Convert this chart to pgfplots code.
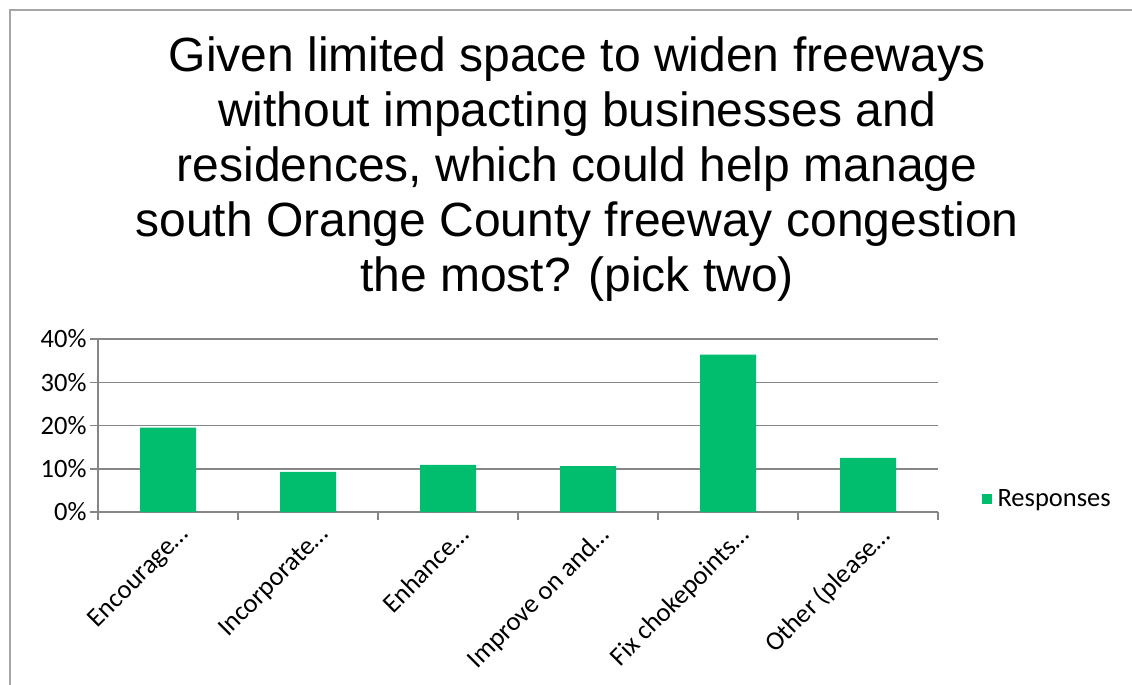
\documentclass[border=0pt]{standalone}
\usepackage{fontspec}
\setmainfont{Carlito}
\newfontfamily\arialfont{Liberation Sans}
\usepackage{pgfplots}
\pgfplotsset{compat=1.18}
\definecolor{barg}{RGB}{0,190,110}
\definecolor{gridg}{RGB}{134,134,134}
\definecolor{frameg}{RGB}{165,165,165}
\begin{document}
\begin{tikzpicture}[x=1pt,y=1pt]
\useasboundingbox (0,0) rectangle (1132,-685);
\draw[frameg, line width=2pt] (10,-686) -- (10,-10) -- (1133,-10);
\node[anchor=north, align=center, font=\arialfont\fontsize{48}{55}\selectfont] at (577,-33) {Given limited space to widen freeways\\without impacting businesses and\\residences, which could help manage\\south Orange County freeway congestion\\the most? (pick two)};
\begin{axis}[
 at={(98pt,-512pt)}, anchor=south west, scale only axis,
 width=840pt, height=173pt,
 ybar, bar width=56pt,
 ymin=0, ymax=40, xmin=-0.5, xmax=5.5,
 ytick={0,10,20,30,40},
 yticklabel={\pgfmathprintnumber{\tick}\%},
 xtick={-0.5,0.5,1.5,2.5,3.5,4.5,5.5},
 xticklabels={,,,,,,},
 extra x ticks={0,1,2,3,4,5},
 extra x tick labels={Encourage…,Incorporate…,Enhance…,Improve on and…,Fix chokepoints…,Other (please…},
 extra x tick style={major tick length=0pt, tick style={draw=none}},
 xticklabel style={rotate=45, anchor=north east, inner sep=2pt, xshift=1pt, yshift=-13pt},
 tick label style={font=\fontsize{26.5}{31}\selectfont},
 /pgf/number format/assume math mode=true,
 axis x line*=bottom, axis y line*=left,
 axis line style={gridg, line width=1.5pt},
 tick style={gridg, line width=1.5pt},
 tick align=outside, major tick length=8pt,
 ymajorgrids, major grid style={gridg, line width=1.5pt},
 legend style={at={(1.048,0.075)}, anchor=west, draw=none, fill=none,
   font=\fontsize{26.5}{31}\selectfont},
 legend cell align=left,
 legend image code/.code={\fill[barg] (0pt,-5pt) rectangle (10pt,5pt); \path (0pt,0pt) -- (14pt,0pt);},
]
\addplot[fill=barg, draw=none] coordinates {(0,19.5) (1,9.3) (2,10.9) (3,10.6) (4,36.4) (5,12.5)};
\addlegendentry{Responses}
\end{axis}
\end{tikzpicture}
\end{document}
